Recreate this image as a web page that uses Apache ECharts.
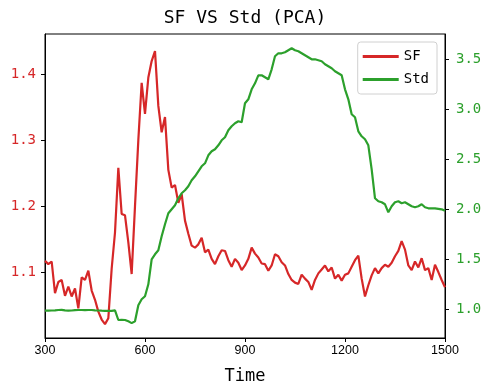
<!DOCTYPE html>
<html>
<head>
<meta charset="utf-8">
<script src="https://cdn.jsdelivr.net/npm/echarts@6/dist/echarts.min.js"></script>
<style>
  html, body { margin: 0; padding: 0; background: #fff; }
  #chart { width: 490px; height: 390px; }
</style>
</head>
<body>
<div id="chart"></div>
<script>
  // sample times
  const time = [
    300, 310, 320, 330, 340, 350, 360, 370, 380, 390,
    400, 410, 420, 430, 440, 450, 460, 470, 480, 490,
    500, 510, 520, 530, 540, 550, 560, 570, 580, 590,
    600, 610, 620, 630, 640, 650, 660, 670, 680, 690,
    700, 710, 720, 730, 740, 750, 760, 770, 780, 790,
    800, 810, 820, 830, 840, 850, 860, 870, 880, 890,
    900, 910, 920, 930, 940, 950, 960, 970, 980, 990,
    1000, 1010, 1020, 1030, 1040, 1050, 1060, 1070, 1080, 1090,
    1100, 1110, 1120, 1130, 1140, 1150, 1160, 1170, 1180, 1190,
    1200, 1210, 1220, 1230, 1240, 1250, 1260, 1270, 1280, 1290,
    1300, 1310, 1320, 1330, 1340, 1350, 1360, 1370, 1380, 1390,
    1400, 1410, 1420, 1430, 1440, 1450, 1460, 1470, 1480, 1490,
    1500
  ]
  // SF (left axis)
  const sf = [
    1.117, 1.112, 1.116, 1.068, 1.085, 1.088, 1.064, 1.078, 1.063, 1.075,
    1.045, 1.092, 1.088, 1.102, 1.072, 1.058, 1.040, 1.028, 1.021, 1.030,
    1.105, 1.160, 1.258, 1.188, 1.186, 1.145, 1.097, 1.200, 1.300, 1.387,
    1.340, 1.395, 1.420, 1.435, 1.352, 1.312, 1.335, 1.255, 1.228, 1.232,
    1.205, 1.218, 1.178, 1.158, 1.140, 1.137, 1.142, 1.152, 1.130, 1.134,
    1.120, 1.112, 1.124, 1.133, 1.132, 1.118, 1.108, 1.120, 1.114, 1.103,
    1.110, 1.120, 1.137, 1.128, 1.122, 1.113, 1.112, 1.102, 1.110, 1.127,
    1.124, 1.115, 1.110, 1.097, 1.088, 1.084, 1.082, 1.096, 1.090, 1.085,
    1.073, 1.088, 1.098, 1.104, 1.110, 1.101, 1.107, 1.090, 1.096, 1.087,
    1.096, 1.098, 1.108, 1.118, 1.125, 1.090, 1.063, 1.080, 1.095, 1.106,
    1.098, 1.106, 1.111, 1.108, 1.114, 1.124, 1.132, 1.147, 1.134, 1.110,
    1.103, 1.116, 1.107, 1.121, 1.103, 1.106, 1.088, 1.111, 1.100, 1.088,
    1.077
  ]
  // Std (right axis)
  const std = [
    0.986, 0.986, 0.988, 0.990, 0.993, 0.995, 0.990, 0.987, 0.988, 0.992,
    0.993, 0.993, 0.992, 0.993, 0.993, 0.990, 0.988, 0.986, 0.985, 0.984,
    0.985, 0.990, 0.893, 0.895, 0.893, 0.880, 0.862, 0.880, 1.040, 1.100,
    1.130, 1.250, 1.500, 1.550, 1.590, 1.730, 1.850, 1.960, 2.000, 2.040,
    2.110, 2.160, 2.190, 2.230, 2.290, 2.330, 2.380, 2.430, 2.460, 2.540,
    2.580, 2.600, 2.640, 2.690, 2.720, 2.790, 2.830, 2.860, 2.880, 2.870,
    3.060, 3.100, 3.200, 3.260, 3.340, 3.340, 3.320, 3.300, 3.400, 3.530,
    3.560, 3.560, 3.570, 3.590, 3.610, 3.590, 3.580, 3.560, 3.540, 3.520,
    3.500, 3.500, 3.490, 3.480, 3.450, 3.430, 3.410, 3.380, 3.360, 3.340,
    3.200, 3.100, 2.950, 2.920, 2.780, 2.730, 2.700, 2.640, 2.400, 2.110,
    2.080, 2.070, 2.050, 1.970, 2.030, 2.070, 2.080, 2.060, 2.070, 2.050,
    2.030, 2.020, 2.030, 2.050, 2.020, 2.010, 2.010, 2.010, 2.005, 2.000,
    1.985
  ]
  const xTicks = [300, 600, 900, 1200, 1500]
  const sfTicks = [1.1, 1.2, 1.3, 1.4]
  const stdTicks = [1.0, 1.5, 2.0, 2.5, 3.0, 3.5]

  const red = '#d62728'
  const green = '#2ca02c'
  const mono = '"DejaVu Sans Mono", monospace'

  const chart = echarts.init(document.getElementById('chart'))
  const option = {
    animation: false,
    title: {
      text: 'SF VS Std (PCA)',
      left: 'center',
      top: 4,
      textStyle: { fontFamily: mono, fontSize: 18, fontWeight: 'normal', color: '#000' }
    },
    legend: {
      orient: 'vertical',
      right: 53,
      top: 42,
      padding: [6, 8, 6, 5],
      itemGap: 6,
      itemWidth: 36,
      itemHeight: 3,
      itemTextGap: 12,
      icon: 'rect',
      borderColor: '#d0d0d0',
      borderWidth: 1,
      borderRadius: 3,
      backgroundColor: 'rgba(255,255,255,0.8)',
      textStyle: { fontFamily: mono, fontSize: 14, color: '#000', lineHeight: 17 },
      data: ['SF', 'Std']
    },
    grid: {
      left: 45, right: 45, top: 34, bottom: 52,
      show: true, borderColor: '#000', borderWidth: 1
    },
    xAxis: {
      type: 'value',
      min: 300, max: 1500, interval: 300,
      name: 'Time',
      nameLocation: 'middle',
      nameGap: 30,
      nameTextStyle: { fontFamily: mono, fontSize: 17, color: '#000' },
      axisLine: { show: true, lineStyle: { color: '#000', width: 1 } },
      axisTick: { show: true, length: 4, lineStyle: { color: '#000' }, customValues: xTicks },
      axisLabel: {
        customValues: xTicks, margin: 6,
        formatter: v => String(v),
        fontFamily: '"Liberation Sans", Arial, sans-serif', fontSize: 12.5, color: '#000'
      },
      splitLine: { show: false }
    },
    yAxis: [
      {
        type: 'value',
        min: 1.0, max: 1.461,
        position: 'left',
        axisLine: { show: true, lineStyle: { color: '#000', width: 1 } },
        axisTick: { show: true, length: 4, lineStyle: { color: '#000' }, customValues: sfTicks },
        axisLabel: {
          customValues: sfTicks, margin: 9,
          formatter: v => v.toFixed(1),
          fontFamily: mono, fontSize: 14, color: red
        },
        splitLine: { show: false }
      },
      {
        type: 'value',
        min: 0.713, max: 3.753,
        position: 'right',
        axisLine: { show: true, lineStyle: { color: '#000', width: 1 } },
        axisTick: { show: true, length: 4, lineStyle: { color: '#000' }, customValues: stdTicks },
        axisLabel: {
          customValues: stdTicks, margin: 11,
          formatter: v => v.toFixed(1),
          fontFamily: mono, fontSize: 14, color: green
        },
        splitLine: { show: false }
      }
    ],
    series: [
      {
        name: 'SF',
        type: 'line',
        yAxisIndex: 0,
        symbol: 'none',
        color: red,
        lineStyle: { width: 2.2, color: red },
        data: time.map((t, i) => [t, sf[i]])
      },
      {
        name: 'Std',
        type: 'line',
        yAxisIndex: 1,
        symbol: 'none',
        color: green,
        lineStyle: { width: 2.2, color: green },
        data: time.map((t, i) => [t, std[i]])
      }
    ]
  }
  chart.setOption(option)
</script>
</body>
</html>
